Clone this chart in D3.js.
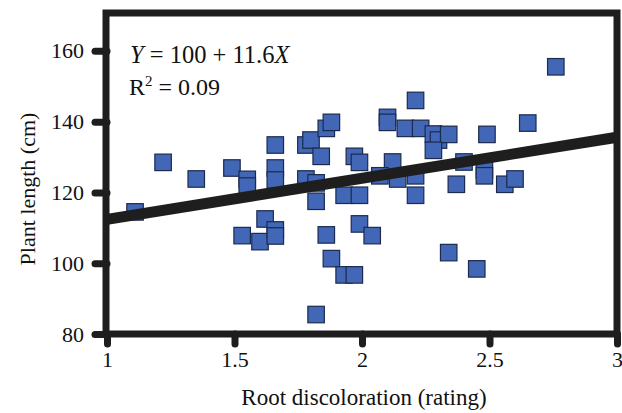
<!DOCTYPE html>
<html>
<head>
<meta charset="utf-8">
<script src="https://cdn.jsdelivr.net/npm/d3@7"></script>
<style>
  body { margin: 0; background: #fff; }
  svg text { font-family: "Liberation Serif", "Times New Roman", serif; fill: #111; }
</style>
</head>
<body>
<div id="chart"></div>
<script>
// root discoloration rating (x) and plant length in cm (y)
const rating = [
  1.11, 1.22, 1.35, 1.49, 1.55, 1.55, 1.66, 1.66, 1.66, 1.62,
  1.53, 1.60, 1.66, 1.66, 1.78, 1.80, 1.86, 1.88, 1.84, 1.78,
  1.82, 1.82, 1.97, 1.99, 1.93, 1.99, 2.12, 2.07, 2.14, 2.10,
  2.10, 2.17, 2.23, 2.21, 2.21, 2.21, 1.86, 1.99, 2.04, 1.88,
  1.93, 1.97, 1.82, 2.28, 2.30, 2.34, 2.28, 2.49, 2.65, 2.37,
  2.48, 2.48, 2.40, 2.56, 2.60, 2.76, 2.34, 2.45
];
const length = [
  114.5, 128.5, 123.8, 126.9, 123.7, 121.8, 133.4, 126.9, 123.5, 112.5,
  107.8, 106.1, 109.4, 107.7, 133.4, 134.8, 138.1, 139.8, 130.2, 123.8,
  117.5, 122.7, 130.2, 128.5, 119.2, 119.2, 128.6, 124.7, 123.8, 141.2,
  139.8, 138.1, 138.1, 146.0, 119.2, 124.7, 108.0, 111.1, 107.8, 101.3,
  96.7, 96.7, 85.5, 136.5, 134.8, 136.4, 131.9, 136.4, 139.6, 122.3,
  126.4, 124.7, 128.6, 122.3, 123.8, 155.5, 103.0, 98.4
];

// regression line ends as drawn
const fitX = [1, 3];
const fitY = [112.4, 135.6];

const xTicks = [1, 1.5, 2, 2.5, 3];
const yTicks = [80, 100, 120, 140, 160];

const W = 622, H = 413;
const svg = d3.select("#chart").append("svg")
  .attr("width", W).attr("height", H);

const x = d3.scaleLinear().domain([1, 3]).range([107, 617]);
const y = d3.scaleLinear().domain([80, 170.7]).range([334, 13]);

const ink = "#1e1e1e";
const sq = 16.5;

// points
svg.append("g")
  .selectAll("rect")
  .data(rating.map((r, i) => [r, length[i]]))
  .enter().append("rect")
  .attr("x", d => x(d[0]) - sq / 2)
  .attr("y", d => y(d[1]) - sq / 2)
  .attr("width", sq)
  .attr("height", sq)
  .attr("fill", "#4167b6")
  .attr("stroke", "#1c2a4e")
  .attr("stroke-width", 1.2);

// fitted line on top of the squares
svg.append("line")
  .attr("x1", x(fitX[0])).attr("y1", y(fitY[0]))
  .attr("x2", x(fitX[1])).attr("y2", y(fitY[1]))
  .attr("stroke", ink)
  .attr("stroke-width", 11);

// axes
const yAxis = d3.axisLeft(y).tickValues(yTicks).tickSize(12).tickPadding(11).tickSizeOuter(0);
const xAxis = d3.axisBottom(x).tickValues(xTicks).tickSize(10).tickPadding(7).tickSizeOuter(0)
  .tickFormat(d3.format("~g"));

const gy = svg.append("g").attr("transform", `translate(${x(1)},0)`).call(yAxis);
const gx = svg.append("g").attr("transform", `translate(0,${y(80)})`).call(xAxis);

[gy, gx].forEach(g => {
  g.select(".domain").remove();
  g.selectAll(".tick line")
    .attr("stroke", ink)
    .attr("stroke-width", 7)
    .attr("stroke-linecap", "round");
  g.selectAll(".tick text")
    .style("font-size", "22px")
    .attr("fill", "#111");
});

// frame
svg.append("rect")
  .attr("x", x(1) - 1)
  .attr("y", y(170.7))
  .attr("width", x(3) - x(1) + 1)
  .attr("height", y(80) - y(170.7))
  .attr("fill", "none")
  .attr("stroke", ink)
  .attr("stroke-width", 7);

// equation
const eq = svg.append("text")
  .attr("x", 130).attr("y", 63)
  .style("font-size", "24.5px");
eq.append("tspan").style("font-style", "italic").text("Y");
eq.append("tspan").text(" = 100 + 11.6");
eq.append("tspan").style("font-style", "italic").text("X");

const r2 = svg.append("text")
  .attr("x", 129).attr("y", 95)
  .style("font-size", "24px");
r2.append("tspan").text("R");
r2.append("tspan").attr("dy", -9).style("font-size", "15px").text("2");
r2.append("tspan").attr("dy", 9).text(" = 0.09");

// axis titles
svg.append("text")
  .attr("transform", "translate(35,189) rotate(-90)")
  .attr("text-anchor", "middle")
  .style("font-size", "22px")
  .text("Plant length (cm)");

svg.append("text")
  .attr("x", 364).attr("y", 405)
  .attr("text-anchor", "middle")
  .style("font-size", "23px")
  .text("Root discoloration (rating)");
</script>
</body>
</html>
